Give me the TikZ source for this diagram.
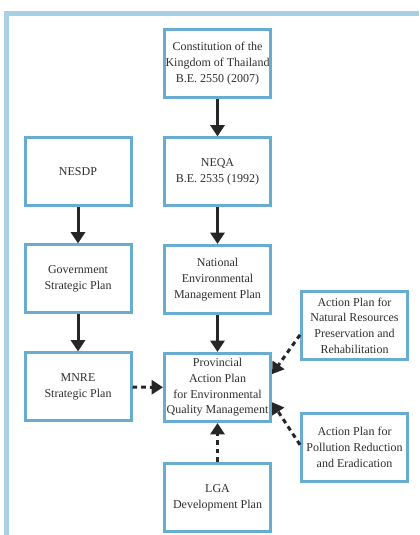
\documentclass[tikz,border=0pt]{standalone}
\usepackage{fontspec}
\setmainfont{Liberation Serif}
\usetikzlibrary{arrows.meta,calc}
\definecolor{framecol}{HTML}{A9CFE2}
\definecolor{boxcol}{HTML}{68ADCF}
\definecolor{textcol}{HTML}{2E2E2E}

\begin{document}
\begin{tikzpicture}[x=0.75pt,y=0.75pt,
        %Option for big arrows%
        >={Triangle[length=8.5pt,width=10.5pt]},%
        plan box/.style={draw=boxcol, line width=2.25pt, fill=white,
            minimum width=79.5pt, minimum height=51pt, inner sep=1pt,
            align=center, text=textcol,
            font=\fontsize{9}{11.8}\selectfont},%
        flow/.style={->, line width=2.25pt, draw=black!85},%
        loose flow/.style={flow, dash pattern=on 3.5pt off 3pt}%
    ]
    %% page and frame
    \useasboundingbox (0,0) rectangle (419,535);
    \draw[framecol, line width=3.75pt] (419,521.5) -- (6.5,521.5) -- (6.5,0);
    %
    %% central column
    \node[plan box] (const) at (217.5,471.5) {Constitution of the\\Kingdom of Thailand\\B.E. 2550 (2007)};
    \node[plan box] (neqa)  at (217.5,363)   {NEQA\\B.E. 2535 (1992)};
    \node[plan box] (nemp)  at (217.5,255.5) {National\\Environmental\\Management Plan};
    \node[plan box] (pap)   at (217.5,147.5) {Provincial\\Action Plan\\for Environmental\\Quality Management};
    \node[plan box] (lga)   at (217.5,37.5)  {LGA\\Development Plan};
    %% left column
    \node[plan box] (nesdp) at (78,363.5)    {NESDP};
    \node[plan box] (gov)   at (78,256)      {Government\\Strategic Plan};
    \node[plan box] (mnre)  at (78,148)      {MNRE\\Strategic Plan};
    %% right column
    \node[plan box] (apnr)  at (354.5,209.5) {Action Plan for\\Natural Resources\\Preservation and\\Rehabilitation};
    \node[plan box] (appr)  at (354.5,87.5)  {Action Plan for\\Pollution Reduction\\and Eradication};
    %
    % solid links
    \draw[flow] (const) -- (neqa);
    \draw[flow] (neqa)  -- (nemp);
    \draw[flow] (nemp)  -- (pap);
    \draw[flow] (nesdp) -- (gov);
    \draw[flow] (gov)   -- (mnre);
    % dashed links
    \draw[loose flow] (mnre) -- (pap);
    \draw[loose flow] (lga)  -- (pap);
    \draw[loose flow] ([yshift=-7pt]apnr.west) -- ([yshift=10pt]pap.east);
    \draw[loose flow] ([yshift=2pt]appr.west)  -- ([yshift=-11pt]pap.east);
\end{tikzpicture}
\end{document}
